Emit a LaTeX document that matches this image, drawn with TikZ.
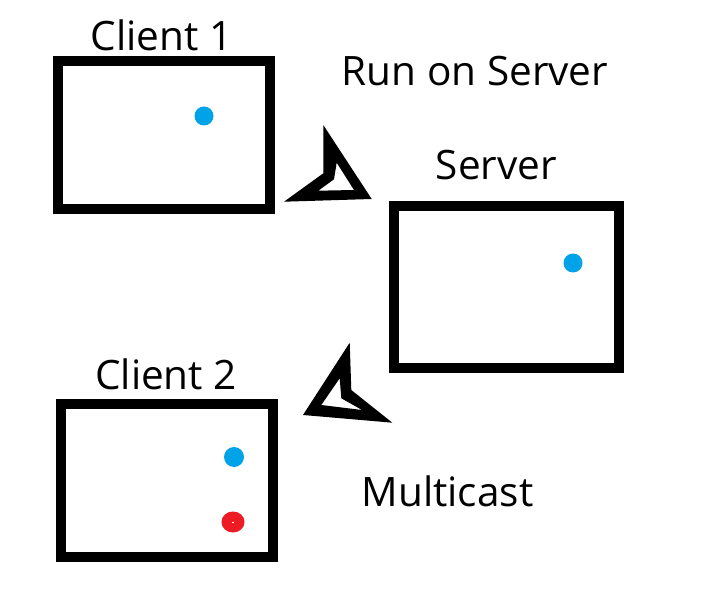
\documentclass[tikz,border=0pt]{standalone}
\usepackage{fontspec}
\setmainfont{Open Sans}
\definecolor{dotblue}{HTML}{00A2E8}
\definecolor{dotred}{HTML}{ED1C24}
\begin{document}
\begin{tikzpicture}[x=1pt,y=-1pt,
  frame/.style={draw=black,line width=10pt,rectangle,inner sep=0pt,fill=white},
  lbl/.style={anchor=base,inner sep=0pt,font=\fontsize{40.5}{46}\selectfont},
  bluedot/.style={circle,fill=dotblue,inner sep=0pt,minimum size=19pt},
  arrowshape/.style={fill=black,even odd rule}]
\useasboundingbox (0,0) rectangle (710,599);
% boxes
\node[frame,minimum width=212pt,minimum height=148pt] (client1) at (164,135) {};
\node[frame,minimum width=225pt,minimum height=162pt] (server) at (506.5,287) {};
\node[frame,minimum width=212pt,minimum height=153pt] (client2) at (167,480.5) {};
% dots
\node[bluedot] (c1dot) at (204,116) {};
\node[bluedot] (sdot) at (573,263) {};
\node[bluedot,minimum size=20pt] (c2dot) at (234,457) {};
\node[circle,fill=dotred,inner sep=0pt,minimum size=21pt,xscale=1.1] (c2red) at (233,522) {};
\draw[white,line width=1pt] (232,522) -- (234,522);
% labels
\node[lbl] (lc1) at (161.5,51) {Client 1};
\node[lbl] (lrun) at (475,86) {Run on Server};
\node[lbl] (lsrv) at (496.5,179) {Server};
\node[lbl] (lc2) at (166,389) {Client 2};
\node[lbl] (lmc) at (447.5,506) {Multicast};
% hand-drawn arrowheads
\fill[arrowshape] (323.3,125) -- (371.7,199) -- (284,201.7) -- (323.3,173.3) -- cycle
  (336.7,162.7) -- (354,190) -- (318.3,190.7) -- (334,179.3) -- cycle;
\fill[arrowshape] (349.7,342.7) -- (351.3,390) -- (392.3,422.7) -- (303,415) -- cycle
  (339.7,378.3) -- (341.3,398.3) -- (362,410) -- (321.3,405) -- cycle;
\end{tikzpicture}
\end{document}
